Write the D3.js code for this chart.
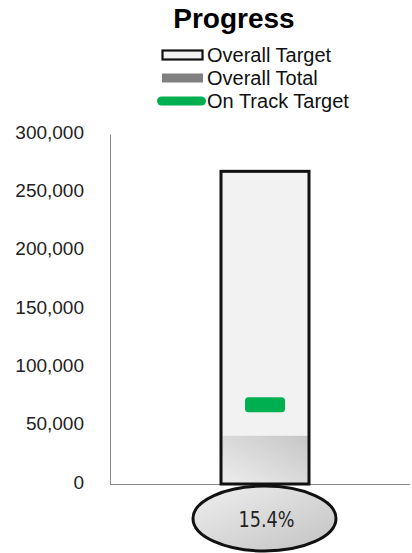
<!DOCTYPE html>
<html><head><meta charset="utf-8">
<script src="https://cdn.jsdelivr.net/npm/d3@7"></script>
<style>body{margin:0;background:#fff}svg{display:block}</style>
</head><body>
<script>
const categories = ["Progress"];
const overallTarget = [268000];
const overallTotal = [41300];
const onTrackTarget = [68000];
const percentLabels = ["15.4%"];
const yTicks = [0, 50000, 100000, 150000, 200000, 250000, 300000];
const legendItems = ["Overall Target", "Overall Total", "On Track Target"];

const W = 412, H = 553;
const FONT = "Liberation Sans, Arial, sans-serif";
const svg = d3.select("body").append("svg").attr("width", W).attr("height", H);
const defs = svg.append("defs");
const g1 = defs.append("linearGradient").attr("id","totGrad").attr("x1","0").attr("y1","1").attr("x2","1").attr("y2","0");
g1.append("stop").attr("offset","0").attr("stop-color","#ededed");
g1.append("stop").attr("offset","1").attr("stop-color","#c6c6c6");
const g2 = defs.append("linearGradient").attr("id","ellGrad").attr("x1","0").attr("y1","0").attr("x2","1").attr("y2","1");
g2.append("stop").attr("offset","0").attr("stop-color","#efefef");
g2.append("stop").attr("offset","1").attr("stop-color","#c2c2c2");

const y = d3.scaleLinear().domain([0, 300000]).range([484, 134]);
const x = d3.scaleBand().domain(categories).range([110, 410]).paddingInner(0.7).paddingOuter(0.3614).align(0.5236);

// title
svg.append("text").attr("x", 234).attr("y", 28).attr("text-anchor","middle")
  .attr("font-family",FONT).attr("font-weight","bold")
  .attr("font-size", 28).attr("fill","#000").text(categories[0]);

// legend
const lg = svg.append("g").attr("font-family",FONT).attr("font-size",20).attr("fill","#111");
legendItems.forEach((t,i)=>{
  const base = 62 + i*23;
  const cy = base - 7;
  if(i===0) lg.append("rect").attr("x",162.5).attr("y",cy-4.5).attr("width",40).attr("height",9).attr("fill","#f2f2f2").attr("stroke","#111").attr("stroke-width",2.2);
  if(i===1) lg.append("rect").attr("x",162).attr("y",cy-4.5).attr("width",41).attr("height",9).attr("fill","#808080");
  if(i===2) lg.append("rect").attr("x",157).attr("y",cy-4.5).attr("width",49).attr("height",9).attr("rx",4.5).attr("fill","#00b050");
  lg.append("text").attr("x",207).attr("y",base).text(t);
});

// axis
const ax = svg.append("g").attr("transform","translate(110,0)")
  .call(d3.axisLeft(y).tickValues(yTicks).tickSize(0).tickPadding(26).tickFormat(d3.format(",")));
ax.select(".domain").attr("stroke","#878787").attr("stroke-width",1);
ax.selectAll("text").attr("font-family",FONT).attr("font-size",19).attr("fill","#222").attr("dy","0.22em");
svg.append("line").attr("x1",110).attr("x2",410).attr("y1",y(0)+0.5).attr("y2",y(0)+0.5).attr("stroke","#878787");

// bars
const bw = x.bandwidth();
categories.forEach((c,i)=>{
  const bx = x(c);
  svg.append("rect").attr("x",bx).attr("y",y(overallTarget[i])).attr("width",bw).attr("height",y(0)-y(overallTarget[i]))
    .attr("fill","#f2f2f2");
  svg.append("rect").attr("x",bx).attr("y",y(overallTotal[i])).attr("width",bw).attr("height",y(0)-y(overallTotal[i]))
    .attr("fill","url(#totGrad)");
  svg.append("rect").attr("x",bx).attr("y",y(overallTarget[i])).attr("width",bw).attr("height",y(0)-y(overallTarget[i]))
    .attr("fill","none").attr("stroke","#111").attr("stroke-width",3);
  svg.append("rect").attr("x",bx+bw/2-20).attr("y",y(onTrackTarget[i])-7.5).attr("width",40).attr("height",15).attr("rx",3.5)
    .attr("fill","#00b050");
  const cx = bx+bw/2 - 0.5;
  svg.append("ellipse").attr("cx",cx).attr("cy",518.5).attr("rx",71.5).attr("ry",32.5)
    .attr("fill","url(#ellGrad)").attr("stroke","#111").attr("stroke-width",3);
  svg.append("text").attr("x",cx+2).attr("y",526.5).attr("text-anchor","middle")
    .attr("font-family","DejaVu Sans, sans-serif").attr("font-size",20.5).attr("fill","#222")
    .attr("textLength",56).attr("lengthAdjust","spacingAndGlyphs").text(percentLabels[i]);
});
</script>
</body></html>
